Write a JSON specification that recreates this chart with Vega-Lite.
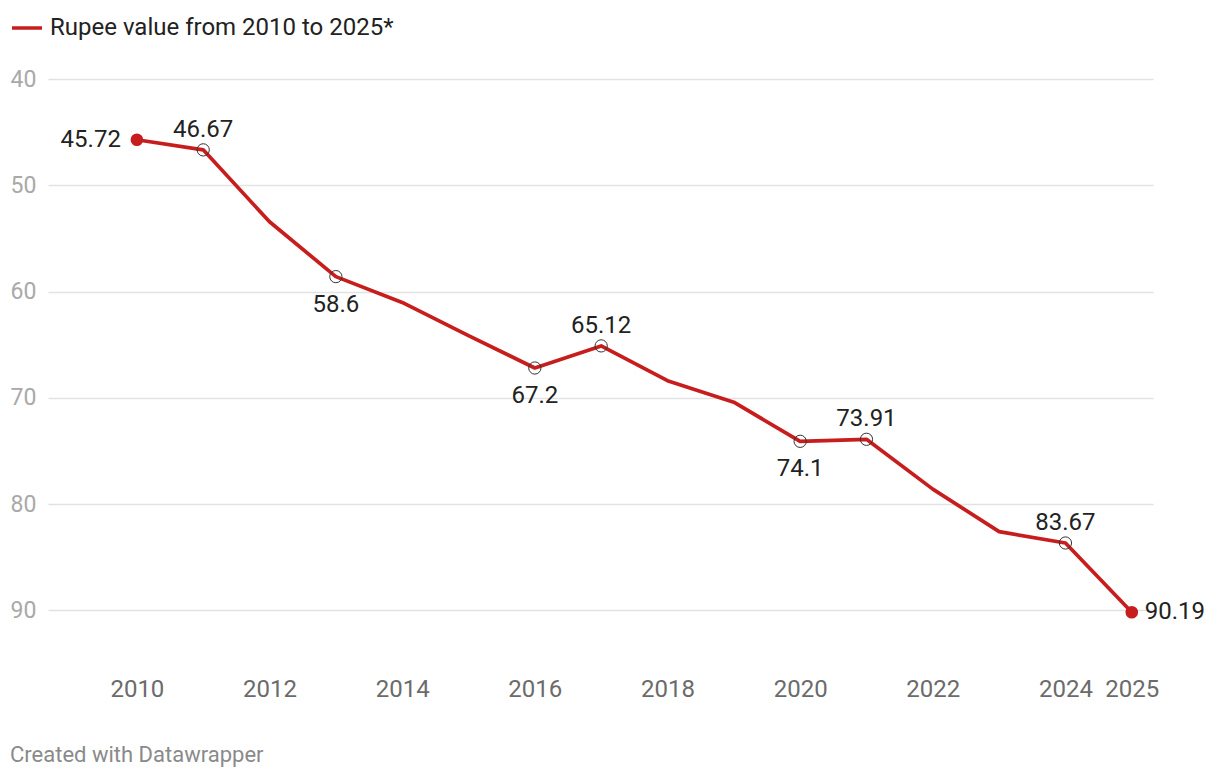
{
  "$schema": "https://vega.github.io/schema/vega-lite/v6.json",
  "width": 1105,
  "height": 595,
  "autosize": {"type": "none"},
  "padding": {"left": 48, "top": 79, "right": 67, "bottom": 104},
  "background": "white",
  "config": {
    "font": "Roboto",
    "view": {"stroke": null}
  },
  "title": {
    "text": "Created with Datawrapper",
    "orient": "bottom",
    "anchor": "start",
    "frame": "group",
    "dx": -38,
    "offset": 44,
    "fontSize": 22,
    "fontWeight": "normal",
    "color": "#8a8a8a",
    "font": "Roboto"
  },
  "data": {
    "values": [
      {"year": 2010, "value": 45.72, "series": "Rupee value from 2010 to 2025*"},
      {"year": 2011, "value": 46.67, "series": "Rupee value from 2010 to 2025*"},
      {"year": 2012, "value": 53.44, "series": "Rupee value from 2010 to 2025*"},
      {"year": 2013, "value": 58.6, "series": "Rupee value from 2010 to 2025*"},
      {"year": 2014, "value": 61.03, "series": "Rupee value from 2010 to 2025*"},
      {"year": 2015, "value": 64.15, "series": "Rupee value from 2010 to 2025*"},
      {"year": 2016, "value": 67.2, "series": "Rupee value from 2010 to 2025*"},
      {"year": 2017, "value": 65.12, "series": "Rupee value from 2010 to 2025*"},
      {"year": 2018, "value": 68.39, "series": "Rupee value from 2010 to 2025*"},
      {"year": 2019, "value": 70.42, "series": "Rupee value from 2010 to 2025*"},
      {"year": 2020, "value": 74.1, "series": "Rupee value from 2010 to 2025*"},
      {"year": 2021, "value": 73.91, "series": "Rupee value from 2010 to 2025*"},
      {"year": 2022, "value": 78.6, "series": "Rupee value from 2010 to 2025*"},
      {"year": 2023, "value": 82.6, "series": "Rupee value from 2010 to 2025*"},
      {"year": 2024, "value": 83.67, "series": "Rupee value from 2010 to 2025*"},
      {"year": 2025, "value": 90.19, "series": "Rupee value from 2010 to 2025*"}
    ]
  },
  "encoding": {
    "x": {
      "field": "year",
      "type": "quantitative",
      "scale": {"domain": [2008.66, 2025.32], "nice": false, "zero": false},
      "axis": {
        "values": [2010, 2012, 2014, 2016, 2018, 2020, 2022, 2024, 2025],
        "format": "d",
        "title": null,
        "grid": false,
        "domain": false,
        "ticks": false,
        "labelFontSize": 24,
        "labelColor": "#6b6b6b",
        "labelPadding": 3,
        "labelFlush": false,
        "labelOverlap": false
      }
    },
    "y": {
      "field": "value",
      "type": "quantitative",
      "scale": {"domain": [40, 96], "reverse": true, "nice": false, "zero": false},
      "axis": {
        "values": [40, 50, 60, 70, 80, 90],
        "title": null,
        "domain": false,
        "ticks": false,
        "grid": true,
        "gridColor": "#e2e2e2",
        "gridWidth": 1.5,
        "labelAlign": "left",
        "labelBaseline": "middle",
        "labelPadding": 38,
        "labelFontSize": 23,
        "labelColor": "#a9a9a9"
      }
    }
  },
  "layer": [
    {
      "mark": {"type": "line", "strokeWidth": 3.7, "strokeJoin": "round"},
      "encoding": {
        "color": {
          "field": "series",
          "type": "nominal",
          "scale": {"range": ["#c71e1d"]},
          "legend": {
            "title": null,
            "orient": "none",
            "legendX": -38,
            "legendY": -68,
            "symbolType": "stroke",
            "symbolSize": 900,
            "symbolStrokeWidth": 3.5,
            "labelFontSize": 24,
            "labelColor": "#222222",
            "labelOffset": 6,
            "labelLimit": 600,
            "padding": 0
          }
        }
      }
    },
    {
      "transform": [{"filter": "datum.year == 2010 || datum.year == 2025"}],
      "mark": {"type": "circle", "size": 160, "color": "#c71e1d", "opacity": 1}
    },
    {
      "transform": [{"filter": "indexof([2011, 2013, 2016, 2017, 2020, 2021, 2024], datum.year) >= 0"}],
      "mark": {"type": "point", "shape": "circle", "size": 150, "filled": false, "stroke": "#333333", "strokeWidth": 1, "opacity": 1}
    },
    {
      "transform": [{"filter": "indexof([2011, 2017, 2021, 2024], datum.year) >= 0"}],
      "mark": {"type": "text", "baseline": "bottom", "dy": -8, "fontSize": 24, "color": "#222222"},
      "encoding": {"text": {"field": "value", "type": "quantitative", "format": ".4~"}}
    },
    {
      "transform": [{"filter": "indexof([2013, 2016, 2020], datum.year) >= 0"}],
      "mark": {"type": "text", "baseline": "top", "dy": 16, "fontSize": 24, "color": "#222222"},
      "encoding": {"text": {"field": "value", "type": "quantitative", "format": ".4~"}}
    },
    {
      "transform": [{"filter": "datum.year == 2010"}],
      "mark": {"type": "text", "align": "right", "baseline": "middle", "dx": -16, "fontSize": 24, "color": "#222222"},
      "encoding": {"text": {"field": "value", "type": "quantitative", "format": ".4~"}}
    },
    {
      "transform": [{"filter": "datum.year == 2025"}],
      "mark": {"type": "text", "align": "left", "baseline": "middle", "dx": 13, "fontSize": 24, "color": "#222222"},
      "encoding": {"text": {"field": "value", "type": "quantitative", "format": ".4~"}}
    }
  ]
}
